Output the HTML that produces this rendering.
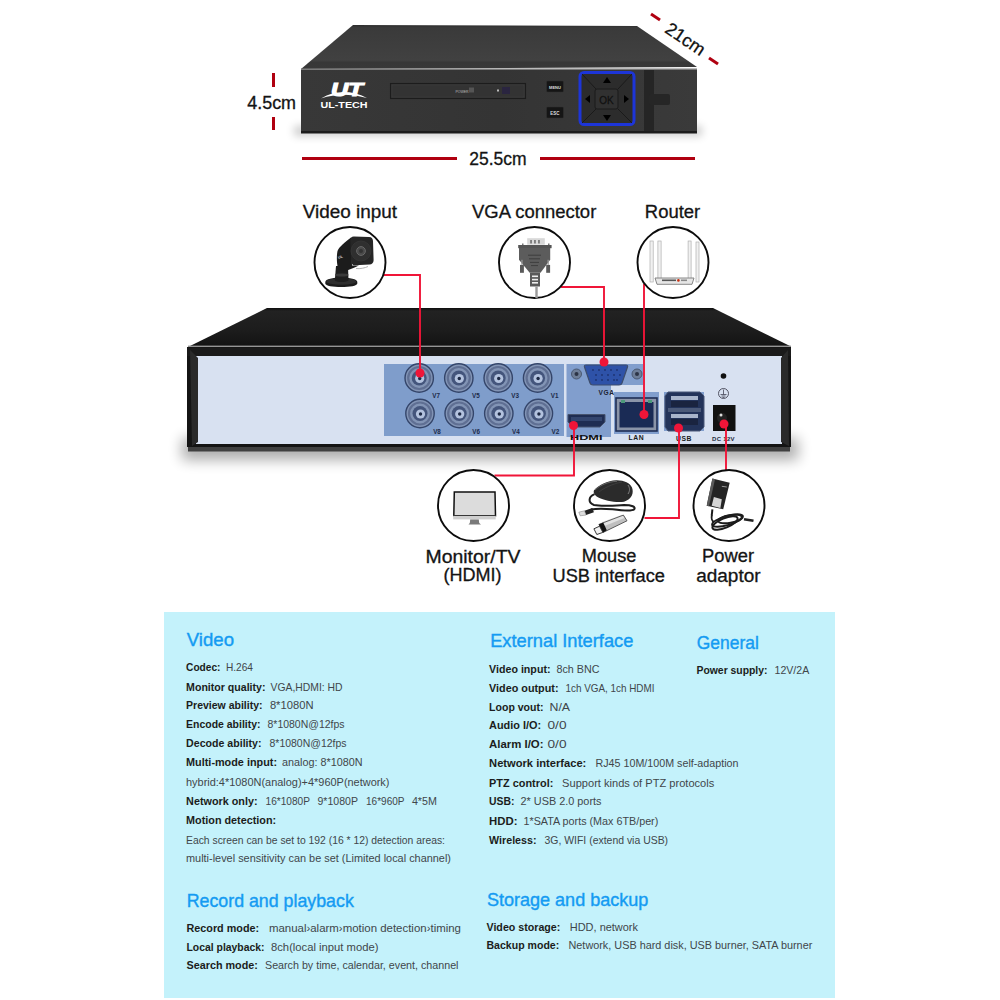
<!DOCTYPE html>
<html><head><meta charset="utf-8">
<style>
html,body{margin:0;padding:0;background:#fff;width:1000px;height:1000px;overflow:hidden}
body{position:relative;font-family:"Liberation Sans",sans-serif;color:#111}
svg.main{position:absolute;left:0;top:0;width:1000px;height:1000px}
</style></head><body>
<svg class="main" viewBox="0 0 1000 1000">
<defs>
  <linearGradient id="topface" x1="0" y1="0" x2="0" y2="1">
    <stop offset="0" stop-color="#2c2c2c"/><stop offset="0.06" stop-color="#3a3a3a"/><stop offset="0.8" stop-color="#414141"/><stop offset="0.85" stop-color="#373737"/><stop offset="1" stop-color="#383838"/>
  </linearGradient>
  <linearGradient id="front1" x1="0" y1="0" x2="1" y2="0">
    <stop offset="0" stop-color="#383838"/><stop offset="0.5" stop-color="#343434"/><stop offset="1" stop-color="#3a3a3a"/>
  </linearGradient>
  <linearGradient id="shadowv" x1="0" y1="0" x2="0" y2="1">
    <stop offset="0" stop-color="#000" stop-opacity="0.35"/><stop offset="1" stop-color="#000" stop-opacity="0"/>
  </linearGradient>
  <linearGradient id="top2" x1="0" y1="0" x2="0" y2="1">
    <stop offset="0" stop-color="#0e0e0e"/><stop offset="0.08" stop-color="#222"/><stop offset="0.6" stop-color="#1c1c1c"/><stop offset="0.95" stop-color="#141414"/><stop offset="1" stop-color="#101010"/>
  </linearGradient>
</defs>

<!-- ============ TOP DVR ============ -->
<filter id="blur4" x="-20%" y="-200%" width="140%" height="500%"><feGaussianBlur stdDeviation="4"/></filter>
<rect x="294" y="126" width="408" height="10" fill="#000" opacity="0.2" filter="url(#blur4)"/>
<polygon points="353,25 637,26 697,67 301,69" fill="url(#topface)"/>
<rect x="301" y="68.5" width="396" height="1.5" fill="#7a7a7a"/>
<rect x="301" y="70" width="396" height="63" fill="url(#front1)"/>
<rect x="301" y="131" width="396" height="2.5" fill="#1c1c1c"/>
<!-- logo -->
<g fill="#fff">
  <text x="331" y="96" font-size="18" font-weight="bold" font-style="italic" stroke="#fff" stroke-width="1.1" textLength="32" lengthAdjust="spacingAndGlyphs">UT</text>
  <path d="M321,98.5 Q343,86 367,98 Q343,91.5 321,98.5Z"/>
  <text x="320.5" y="108.3" font-size="8.4" font-weight="bold" textLength="47" lengthAdjust="spacingAndGlyphs">UL-TECH</text>
</g>
<!-- slot -->
<rect x="390.5" y="83.5" width="135" height="15" fill="#333" stroke="#1c1c1c" stroke-width="1.1"/>
<rect x="392" y="85" width="132" height="12" fill="none" stroke="#3e3e3e" stroke-width="0.6"/>
<text x="462" y="92.5" font-size="3.5" fill="#bbb" text-anchor="middle">POWER</text>
<rect x="469" y="87.5" width="5" height="5" fill="#555"/>
<rect x="497" y="89.5" width="2" height="2" fill="#bbb"/>
<rect x="502" y="87" width="8" height="7" fill="#2a2540"/>
<!-- buttons -->
<rect x="546.5" y="81" width="17" height="11" rx="1" fill="#151515" stroke="#333" stroke-width="0.5"/>
<text x="555" y="88.5" font-size="4" font-weight="bold" fill="#ddd" text-anchor="middle">MENU</text>
<rect x="546.5" y="107" width="17" height="11" rx="1" fill="#151515" stroke="#333" stroke-width="0.5"/>
<text x="555" y="114.5" font-size="4.5" font-weight="bold" fill="#ddd" text-anchor="middle">ESC</text>
<!-- nav pad -->
<rect x="580" y="72.5" width="54" height="52" rx="4" fill="#2c2c2c" stroke="#1d35d8" stroke-width="3"/>
<g stroke="#1a1a1a" stroke-width="1">
  <line x1="582" y1="74" x2="596" y2="89"/><line x1="632" y1="74" x2="618" y2="89"/>
  <line x1="582" y1="123" x2="596" y2="109"/><line x1="632" y1="123" x2="618" y2="109"/>
</g>
<rect x="595" y="89" width="23" height="20" rx="2" fill="#313131" stroke="#1a1a1a" stroke-width="1"/>
<text x="606.5" y="103.5" font-size="10" fill="#111" stroke="#111" stroke-width="0.3" text-anchor="middle">OK</text>
<g fill="#000">
  <polygon points="607,77 603,83 611,83"/><polygon points="607,121 603,115 611,115"/>
  <polygon points="585,99 590,95 590,103"/><polygon points="629,99 624,95 624,103"/>
</g>
<rect x="644" y="70" width="10" height="61" fill="#252525"/>
<rect x="649" y="94" width="21" height="11" rx="2" fill="#262626"/>

<!-- dimension marks -->
<g fill="#b00010">
  <rect x="272" y="73" width="3" height="14"/>
  <rect x="272" y="117" width="3" height="13"/>
  <rect x="302" y="157" width="155" height="3"/>
  <rect x="540" y="157" width="155" height="3"/>
  <line x1="651" y1="14" x2="660" y2="20" stroke="#b00010" stroke-width="3"/>
  <line x1="709" y1="58" x2="718" y2="64" stroke="#b00010" stroke-width="3"/>
</g>
<text x="682" y="44" font-size="18" fill="#111" stroke="#111" stroke-width="0.3" text-anchor="middle" transform="rotate(34 682 44)">21cm</text>


<!-- ============ BACK DVR ============ -->
<defs>
  <linearGradient id="shadow2" x1="0" y1="0" x2="0" y2="1">
    <stop offset="0" stop-color="#000" stop-opacity="0.45"/><stop offset="0.4" stop-color="#000" stop-opacity="0.12"/><stop offset="1" stop-color="#000" stop-opacity="0"/>
  </linearGradient>
  <radialGradient id="bncg" cx="0.5" cy="0.5" r="0.5">
    <stop offset="0" stop-color="#c9d3e2"/><stop offset="0.35" stop-color="#8d9fbd"/><stop offset="0.55" stop-color="#a7b5cd"/><stop offset="0.8" stop-color="#8394b5"/><stop offset="1" stop-color="#6b7fa6"/>
  </radialGradient>
</defs>
<filter id="blur6" x="-20%" y="-100%" width="140%" height="300%"><feGaussianBlur stdDeviation="7"/></filter>
<filter id="blur3" x="-20%" y="-100%" width="140%" height="300%"><feGaussianBlur stdDeviation="3"/></filter>
<rect x="182" y="438" width="616" height="22" fill="#000" opacity="0.32" filter="url(#blur6)"/>
<polygon points="267,308 713,308 790,346 190,346" fill="url(#top2)"/>
<rect x="188" y="345.6" width="603" height="1.8" fill="#959595"/>
<rect x="188" y="446" width="602" height="5.5" fill="#404040"/>
<rect x="187" y="347" width="604" height="100" fill="#141414"/>
<rect x="187" y="347.4" width="604" height="8.6" fill="#1a1a1a"/>
<polygon points="196,356 782,356 782,444 196,444" fill="#d8e1f1"/>
<polygon points="190,350 198,358 198,442 192,446" fill="#2a2a2a"/>
<polygon points="788,350 781,358 781,442 789,446" fill="#2a2a2a"/>
<!-- BNC panel -->
<rect x="384" y="364" width="180" height="72" fill="#7f9dcb"/>
<g id="bncs"><circle cx="419.2" cy="378" r="14.2" fill="#8294b5" stroke="#34456a" stroke-width="1.4"/>
<circle cx="419.2" cy="378" r="11" fill="none" stroke="#5f6f93" stroke-width="2.2"/>
<circle cx="419.2" cy="378" r="7.5" fill="#44557c"/>
<circle cx="419.7" cy="378.5" r="4.6" fill="#b3c2de"/>
<circle cx="419.7" cy="378.5" r="1.7" fill="#1c2844"/>
<text x="436.2" y="396.5" font-size="6.3" font-weight="bold" fill="#1c2a4a" text-anchor="middle" dy="1.5">V7</text>
<circle cx="458.8" cy="378" r="14.2" fill="#8294b5" stroke="#34456a" stroke-width="1.4"/>
<circle cx="458.8" cy="378" r="11" fill="none" stroke="#5f6f93" stroke-width="2.2"/>
<circle cx="458.8" cy="378" r="7.5" fill="#44557c"/>
<circle cx="459.3" cy="378.5" r="4.6" fill="#b3c2de"/>
<circle cx="459.3" cy="378.5" r="1.7" fill="#1c2844"/>
<text x="475.8" y="396.5" font-size="6.3" font-weight="bold" fill="#1c2a4a" text-anchor="middle" dy="1.5">V5</text>
<circle cx="498.2" cy="378" r="14.2" fill="#8294b5" stroke="#34456a" stroke-width="1.4"/>
<circle cx="498.2" cy="378" r="11" fill="none" stroke="#5f6f93" stroke-width="2.2"/>
<circle cx="498.2" cy="378" r="7.5" fill="#44557c"/>
<circle cx="498.7" cy="378.5" r="4.6" fill="#b3c2de"/>
<circle cx="498.7" cy="378.5" r="1.7" fill="#1c2844"/>
<text x="515.2" y="396.5" font-size="6.3" font-weight="bold" fill="#1c2a4a" text-anchor="middle" dy="1.5">V3</text>
<circle cx="537.6" cy="378" r="14.2" fill="#8294b5" stroke="#34456a" stroke-width="1.4"/>
<circle cx="537.6" cy="378" r="11" fill="none" stroke="#5f6f93" stroke-width="2.2"/>
<circle cx="537.6" cy="378" r="7.5" fill="#44557c"/>
<circle cx="538.1" cy="378.5" r="4.6" fill="#b3c2de"/>
<circle cx="538.1" cy="378.5" r="1.7" fill="#1c2844"/>
<text x="554.6" y="396.5" font-size="6.3" font-weight="bold" fill="#1c2a4a" text-anchor="middle" dy="1.5">V1</text>
<circle cx="420" cy="413.5" r="14.2" fill="#8294b5" stroke="#34456a" stroke-width="1.4"/>
<circle cx="420" cy="413.5" r="11" fill="none" stroke="#5f6f93" stroke-width="2.2"/>
<circle cx="420" cy="413.5" r="7.5" fill="#44557c"/>
<circle cx="420.5" cy="414.0" r="4.6" fill="#b3c2de"/>
<circle cx="420.5" cy="414.0" r="1.7" fill="#1c2844"/>
<text x="437" y="432.0" font-size="6.3" font-weight="bold" fill="#1c2a4a" text-anchor="middle" dy="1.5">V8</text>
<circle cx="459.2" cy="413.5" r="14.2" fill="#8294b5" stroke="#34456a" stroke-width="1.4"/>
<circle cx="459.2" cy="413.5" r="11" fill="none" stroke="#5f6f93" stroke-width="2.2"/>
<circle cx="459.2" cy="413.5" r="7.5" fill="#44557c"/>
<circle cx="459.7" cy="414.0" r="4.6" fill="#b3c2de"/>
<circle cx="459.7" cy="414.0" r="1.7" fill="#1c2844"/>
<text x="476.2" y="432.0" font-size="6.3" font-weight="bold" fill="#1c2a4a" text-anchor="middle" dy="1.5">V6</text>
<circle cx="498.8" cy="413.5" r="14.2" fill="#8294b5" stroke="#34456a" stroke-width="1.4"/>
<circle cx="498.8" cy="413.5" r="11" fill="none" stroke="#5f6f93" stroke-width="2.2"/>
<circle cx="498.8" cy="413.5" r="7.5" fill="#44557c"/>
<circle cx="499.3" cy="414.0" r="4.6" fill="#b3c2de"/>
<circle cx="499.3" cy="414.0" r="1.7" fill="#1c2844"/>
<text x="515.8" y="432.0" font-size="6.3" font-weight="bold" fill="#1c2a4a" text-anchor="middle" dy="1.5">V4</text>
<circle cx="538.4" cy="413.5" r="14.2" fill="#8294b5" stroke="#34456a" stroke-width="1.4"/>
<circle cx="538.4" cy="413.5" r="11" fill="none" stroke="#5f6f93" stroke-width="2.2"/>
<circle cx="538.4" cy="413.5" r="7.5" fill="#44557c"/>
<circle cx="538.9" cy="414.0" r="4.6" fill="#b3c2de"/>
<circle cx="538.9" cy="414.0" r="1.7" fill="#1c2844"/>
<text x="555.4" y="432.0" font-size="6.3" font-weight="bold" fill="#1c2a4a" text-anchor="middle" dy="1.5">V2</text></g>
<!-- VGA/HDMI panel -->
<polygon points="566.5,364 643,364 643,385 611,385 611,437 566.5,437" fill="#819ecd"/>
<rect x="614" y="392" width="45" height="42" fill="#819ecd"/>
<rect x="664" y="392" width="40" height="39" fill="#819ecd"/>
<!-- VGA -->
<circle cx="576.5" cy="374" r="5" fill="#6e7e98" stroke="#4b5a74" stroke-width="1"/>
<circle cx="576.5" cy="374" r="2" fill="#2c3446"/>
<circle cx="637" cy="374" r="5" fill="#6e7e98" stroke="#4b5a74" stroke-width="1"/>
<circle cx="637" cy="374" r="2" fill="#2c3446"/>
<path d="M586,365 L626,365 Q628,365 627.5,367 L622,383 Q621.5,385 619,385 L593,385 Q590.5,385 590,383 L584.5,367 Q584,365 586,365Z" fill="#2e52a8" stroke="#3d4d6c" stroke-width="1.2"/>
<g fill="#1d3270">
  <circle cx="593" cy="370" r="0.9"/><circle cx="599" cy="370" r="0.9"/><circle cx="605" cy="370" r="0.9"/><circle cx="611" cy="370" r="0.9"/><circle cx="617" cy="370" r="0.9"/>
  <circle cx="596" cy="375" r="0.9"/><circle cx="602" cy="375" r="0.9"/><circle cx="608" cy="375" r="0.9"/><circle cx="614" cy="375" r="0.9"/><circle cx="620" cy="375" r="0.9"/>
  <circle cx="596" cy="380" r="0.9"/><circle cx="602" cy="380" r="0.9"/><circle cx="608" cy="380" r="0.9"/><circle cx="614" cy="380" r="0.9"/><circle cx="617" cy="380" r="0.9"/>
</g>
<text x="606.5" y="395" font-size="6.6" font-weight="bold" fill="#1a2233" text-anchor="middle" letter-spacing="0.6">VGA</text>
<!-- HDMI -->
<path d="M568,414.5 L605,414.5 L605,422 L600,427 L573,427 L568,422Z" fill="#1f2d52" stroke="#46536e" stroke-width="1"/>
<rect x="571" y="417" width="31" height="4" fill="#33456e"/>
<text x="570" y="439.5" font-size="8" font-weight="bold" fill="#111" textLength="32.5" lengthAdjust="spacingAndGlyphs">HDMI</text>
<!-- LAN -->
<rect x="616" y="398" width="41" height="33" fill="#8a94a8" stroke="#1e2d55" stroke-width="1.6"/>
<rect x="619.5" y="402" width="34" height="25.5" fill="#1a2b55"/>
<rect x="621" y="400" width="4" height="3" fill="#4c9a7a"/><rect x="648" y="400" width="4" height="3" fill="#4c9a7a"/>
<text x="636.5" y="440" font-size="6.8" font-weight="bold" fill="#1a1a1a" text-anchor="middle" letter-spacing="0.6">LAN</text>
<!-- USB -->
<path d="M668,392 L700,392 L704,396 L704,427 L700,431 L668,431 L665,427 L665,396Z" fill="#23335a" stroke="#4a5878" stroke-width="1"/>
<rect x="671" y="396" width="27" height="4" fill="#a9b5cc"/>
<rect x="671" y="401" width="27" height="6" fill="#1a2440"/>
<rect x="668" y="408" width="33" height="4" fill="#4b5a7a"/>
<rect x="671" y="414" width="27" height="4" fill="#a9b5cc"/>
<rect x="671" y="419" width="27" height="6" fill="#1a2440"/>
<text x="684" y="440.5" font-size="6.8" font-weight="bold" fill="#1a1a1a" text-anchor="middle" letter-spacing="0.6">USB</text>
<!-- power side -->
<circle cx="723.5" cy="376" r="2.8" fill="#111"/>
<circle cx="723.5" cy="393.5" r="5" fill="none" stroke="#445" stroke-width="0.9"/>
<path d="M723.5,389.5 V394.5 M720.5,394.5 H726.5 M721.5,396 H725.5 M722.5,397.5 H724.5" stroke="#445" stroke-width="0.8" fill="none"/>
<rect x="713" y="405" width="22.5" height="26" fill="#111"/>
<circle cx="722" cy="418" r="5" fill="#222"/>
<circle cx="721" cy="415" r="1.5" fill="#ddd"/>
<text x="723.5" y="441" font-size="6" font-weight="bold" fill="#1e2a3c" text-anchor="middle" letter-spacing="0.3">DC 12V</text>
<!-- ============ CIRCLES & LINES ============ -->
<g fill="none" stroke="#f01538" stroke-width="1.9">
  <polyline points="384,275 420,275 420,373"/>
  <polyline points="561,287 604,287 604,362"/>
  <polyline points="644,284 644,414.5"/>
  <polyline points="574,425.5 574,475.5 494.5,475.5"/>
  <polyline points="679,428 679,518 644.5,518"/>
  <polyline points="726,424 726,470"/>
</g>
<g fill="#f01538">
  <circle cx="420" cy="373" r="4.5"/>
  <circle cx="604" cy="362" r="4.5"/>
  <circle cx="644" cy="414.5" r="4.5"/>
  <circle cx="573.5" cy="425.5" r="4.5"/>
  <circle cx="678.5" cy="428" r="4.5"/>
  <circle cx="724" cy="424" r="4.5"/>
</g>
<g fill="#fff" stroke="#0c0c0c" stroke-width="1.9">
  <circle cx="350" cy="262.5" r="35.5"/>
  <circle cx="534.5" cy="262.5" r="35.5"/>
  <circle cx="673" cy="262.5" r="35.5"/>
  <circle cx="473.5" cy="505.5" r="35.5"/>
  <circle cx="609.5" cy="505.5" r="35.5"/>
  <circle cx="729" cy="505.5" r="35.5"/>
</g>
<g id="icons">
<!-- camera -->
<g>
 <path d="M325.3,282 C325.3,279 333,277.5 341.3,277.5 C349.5,277.5 357.3,279 357.3,282 L357.3,283.5 C357.3,286 349.5,287 341.3,287 C333,287 325.3,286 325.3,283.5Z" fill="#1b1b1b"/>
 <ellipse cx="341.3" cy="281.5" rx="15" ry="3.3" fill="#2e2e2e"/>
 <path d="M336,266 L348,266 L348.5,280.5 C345,282.5 338,282.5 334.8,280.5Z" fill="#1e1e1e"/>
 <ellipse cx="341.8" cy="275" rx="6.8" ry="1.6" fill="#3a3a3a"/>
 <path d="M351,237.5 C345,242 339,247 337.5,251 C336.5,256 336.8,262 337.5,266 C338.5,270 341,272 345,271 C350,269.5 356,267 359,265.5 L352,265.5 Z" fill="#1c1c1c"/>
 <path d="M354,236.6 L369,237.1 C372,237.2 372.8,239 373,241 L373.6,260 C373.7,263 372,264.3 369.5,264.5 L355,265.3 C352.3,265.4 351.2,263.5 351.1,261 L350.3,240.5 C350.2,238 351.5,236.5 354,236.6Z" fill="#262626"/>
 <circle cx="361" cy="251" r="10" fill="#2f2f2f" stroke="#3a3a3a" stroke-width="0.6"/>
 <circle cx="361" cy="251" r="4.4" fill="#4a4a4a" stroke="#686868" stroke-width="1"/>
 <circle cx="361" cy="251" r="2" fill="#333"/>
 <path d="M356,268.5 C360,269 365,268 368,266.5" stroke="#aaa" stroke-width="0.9" fill="none"/>
 <text x="338.5" y="259" font-size="3.6" font-weight="bold" fill="#ddd" transform="rotate(-20 338.5 259)">UL</text>
</g>
<!-- VGA connector -->
<g>
 <rect x="527.2" y="238.2" width="17.6" height="6.5" fill="#d8d8d8"/>
 <rect x="530.3" y="240" width="1.5" height="3.5" fill="#666"/><rect x="534.2" y="240" width="1.5" height="3.5" fill="#666"/><rect x="538.2" y="240" width="1.5" height="3.5" fill="#666"/>
 <rect x="522" y="243.5" width="1.5" height="2" fill="#777"/><rect x="548" y="243.5" width="1.5" height="2" fill="#777"/>
 <rect x="518.2" y="245" width="33.4" height="3.2" fill="#555"/>
 <path d="M519,248 L550.2,248 L550.2,259.8 L540.5,272.8 L529.7,272.8 L519,259.8 Z" fill="#5c5c5c"/>
 <g stroke="#3e3e3e" stroke-width="1"><line x1="528" y1="255.2" x2="541" y2="255.2"/><line x1="529" y1="258.8" x2="540" y2="258.8"/><line x1="530" y1="262.4" x2="539" y2="262.4"/><line x1="531" y1="265.6" x2="538" y2="265.6"/></g>
 <rect x="520" y="264.9" width="3.9" height="7.9" fill="#5a5a5a"/><rect x="546.2" y="264.9" width="3.9" height="7.9" fill="#5a5a5a"/>
 <rect x="521.3" y="259.8" width="1.3" height="5" fill="#999"/><rect x="547.5" y="259.8" width="1.3" height="5" fill="#999"/>
 <rect x="530" y="272.8" width="10" height="13.7" fill="#5a5a5a"/>
 <g fill="#eee"><rect x="532" y="275.5" width="6" height="1.6"/><rect x="532" y="278.8" width="6" height="1.6"/><rect x="532" y="282" width="6" height="1.6"/></g>
 <rect x="535.3" y="286.5" width="2.4" height="11.5" fill="#9a9a9a"/>
</g>
<!-- router -->
<g>
 <g fill="#f1f1f1" stroke="#b0b0b0" stroke-width="0.7">
  <rect x="650" y="241" width="3.2" height="41"/><rect x="657.9" y="241" width="3.2" height="39"/>
  <rect x="688.1" y="241" width="3" height="39"/><rect x="696" y="242" width="3" height="40"/>
 </g>
 <path d="M655,278 L694,278 L692,284.3 L657,284.3 Z" fill="#e6e6e6" stroke="#7a7a7a" stroke-width="0.9"/>
 <rect x="662" y="279.5" width="14" height="1.6" fill="#555"/>
 <circle cx="678.4" cy="280.4" r="1.3" fill="#c83010"/>
 <rect x="681" y="279.5" width="6" height="1.6" fill="#888"/>
</g>
<!-- monitor -->
<g>
 <path d="M454.3,492 L495,492 L495.5,515.8 L453.8,515.8 Z" fill="#dcdcdc" stroke="#111" stroke-width="1.5"/>
 <rect x="453.2" y="515.8" width="42.5" height="3.6" fill="#cfcfcf"/>
 <polygon points="470.2,519.6 478.8,519.6 479.2,523 481,524.6 468.5,524.6 469.8,523" fill="#7a7a7a"/>
</g>
<!-- mouse + usb -->
<g>
 <path d="M594.6,494.2 C588,497 588,503 594,505 C602,506.5 615,505.5 624,505 C632,505 636,507 634.2,509.3 C632,511.5 622,510.5 612.6,509.3 C604,508.5 596,508.5 591,509.5" fill="none" stroke="#1e1e1e" stroke-width="2"/>
 <path d="M593.9,490.6 C598,485 608,480.5 616.2,480.2 C624,480 630,483 632,487.5 C634,493 632,499 624,501.8 C616,503 604,500.5 598.9,497.8 C595,496 593,493 593.9,490.6Z" fill="#2b2b2b"/>
 <path d="M595,490 C600,485 609,481.5 617,481.3" stroke="#6a6a6a" stroke-width="0.9" fill="none"/>
 <path d="M599,492 C604,488 612,484 622,482" stroke="#444" stroke-width="0.7" fill="none"/>
 <path d="M628,494 C630,491 630,488 628,485" stroke="#8a8a8a" stroke-width="0.9" fill="none"/>
 <polygon points="584.5,510.8 592.4,507.9 593.9,512.2 586,515.1" fill="#222"/>
 <polygon points="578.8,512.2 584.5,510.8 586,515.1 580.2,515.8" fill="#dedede" stroke="#777" stroke-width="0.5"/>
 <polygon points="598.9,524.4 623.4,515.1 627,520.8 603.2,532.4" fill="#bfbfbf"/>
 <polygon points="602,522 622,514.8 624.5,518 604.5,526" fill="#e2e2e2"/>
 <polygon points="598.9,524.4 623.4,515.1 627,520.8 603.2,532.4" fill="none" stroke="#3a3a3a" stroke-width="0.8"/>
 <polygon points="598.9,524.4 603.2,522.6 606.8,530.2 603.2,532.4" fill="#111"/>
 <polygon points="593.9,528.8 599.6,526.2 602.9,532.4 596.8,534.5" fill="#f2f2f2" stroke="#222" stroke-width="0.9"/>
</g>
<!-- power adaptor -->
<g>
 <polygon points="712.4,478.4 729.7,482.7 723.2,509.3 706.7,505.7" fill="#242424"/>
 <polygon points="712.4,478.4 715,479.2 709,506.2 706.7,505.7" fill="#5a5a5a"/>
 <polygon points="713.9,497.1 721.8,499.2 720.4,507.9 711.7,505.7" fill="#d4d4d4"/>
 <line x1="721.8" y1="486.3" x2="726.8" y2="487" stroke="#999" stroke-width="1"/>
 <line x1="712.4" y1="509.3" x2="711.7" y2="515.5" stroke="#1a1a1a" stroke-width="2"/>
 <g fill="none" stroke="#1c1c1c" stroke-width="1.9">
  <ellipse cx="727.5" cy="520.5" rx="16" ry="4.6" transform="rotate(-16 727.5 520.5)"/>
  <ellipse cx="725" cy="523" rx="13.5" ry="4.8" transform="rotate(-22 725 523)"/>
  <ellipse cx="730" cy="519" rx="12" ry="3.8" transform="rotate(-10 730 519)"/>
  <path d="M712,515 C711,518 712,521 714,522"/>
 </g>
 <line x1="744" y1="519.2" x2="753.5" y2="520.8" stroke="#222" stroke-width="2.6"/>
</g>
</g>
</g>

<g id="labels" fill="#141414" stroke="#141414" stroke-width="0.3">
<text x="302.8" y="218.2" font-size="18" textLength="94.20" lengthAdjust="spacingAndGlyphs">Video input</text>
<text x="472.0" y="218.2" font-size="18" textLength="124.30" lengthAdjust="spacingAndGlyphs">VGA connector</text>
<text x="644.8000000000001" y="218.2" font-size="18" textLength="55.4" lengthAdjust="spacingAndGlyphs">Router</text>
<text x="425.5" y="562.5" font-size="18" textLength="95.00" lengthAdjust="spacingAndGlyphs">Monitor/TV</text>
<text x="443.5" y="580.5" font-size="18" textLength="58.10" lengthAdjust="spacingAndGlyphs">(HDMI)</text>
<text x="581.8000000000001" y="562" font-size="18" textLength="54.60" lengthAdjust="spacingAndGlyphs">Mouse</text>
<text x="552.5" y="581.8" font-size="18" textLength="112.50" lengthAdjust="spacingAndGlyphs">USB interface</text>
<text x="702.1" y="562" font-size="18" textLength="52.00" lengthAdjust="spacingAndGlyphs">Power</text>
<text x="696.2" y="581.8" font-size="18" textLength="64.4" lengthAdjust="spacingAndGlyphs">adaptor</text>
<text x="247.2" y="108.5" font-size="18" textLength="48.9" lengthAdjust="spacingAndGlyphs">4.5cm</text>
<text x="469.2" y="165" font-size="18" textLength="57.4" lengthAdjust="spacingAndGlyphs">25.5cm</text>
</g>
<!-- ============ SPEC BOX ============ -->
<rect x="164" y="612" width="671" height="386" fill="#c4f2fb"/>
<g id="spectext">
<g font-family="Liberation Sans, sans-serif">
<text x="186.79999999999998" y="646" font-size="18.5" fill="#149bf2" stroke="#149bf2" stroke-width="0.4" textLength="47.2" lengthAdjust="spacingAndGlyphs">Video</text>
<text x="490.2" y="647" font-size="18.5" fill="#149bf2" stroke="#149bf2" stroke-width="0.4" textLength="143.2" lengthAdjust="spacingAndGlyphs">External Interface</text>
<text x="696.8000000000001" y="648.5" font-size="18.5" fill="#149bf2" stroke="#149bf2" stroke-width="0.4" textLength="62.00" lengthAdjust="spacingAndGlyphs">General</text>
<text x="186.7" y="907" font-size="18.5" fill="#149bf2" stroke="#149bf2" stroke-width="0.4" textLength="167.10" lengthAdjust="spacingAndGlyphs">Record and playback</text>
<text x="486.9" y="906" font-size="18.5" fill="#149bf2" stroke="#149bf2" stroke-width="0.4" textLength="161.5" lengthAdjust="spacingAndGlyphs">Storage and backup</text>
<text x="186.1" y="671.4" font-size="11.8" font-weight="bold" fill="#1b1d20" textLength="34.40" lengthAdjust="spacingAndGlyphs">Codec:</text>
<text x="225.9" y="671.4" font-size="11.8" fill="#41464a" textLength="27.0" lengthAdjust="spacingAndGlyphs">H.264</text>
<text x="186.1" y="690.6" font-size="11.8" font-weight="bold" fill="#1b1d20" textLength="79.4" lengthAdjust="spacingAndGlyphs">Monitor quality:</text>
<text x="270.5" y="690.6" font-size="11.8" fill="#41464a" textLength="72" lengthAdjust="spacingAndGlyphs">VGA,HDMI: HD</text>
<text x="186.1" y="709" font-size="11.8" font-weight="bold" fill="#1b1d20" textLength="76.4" lengthAdjust="spacingAndGlyphs">Preview ability:</text>
<text x="269.9" y="709" font-size="11.8" fill="#41464a" textLength="43.60" lengthAdjust="spacingAndGlyphs">8*1080N</text>
<text x="186.1" y="728" font-size="11.8" font-weight="bold" fill="#1b1d20" textLength="74.4" lengthAdjust="spacingAndGlyphs">Encode ability:</text>
<text x="267.5" y="728" font-size="11.8" fill="#41464a" textLength="77" lengthAdjust="spacingAndGlyphs">8*1080N@12fps</text>
<text x="186.1" y="746.6" font-size="11.8" font-weight="bold" fill="#1b1d20" textLength="75.4" lengthAdjust="spacingAndGlyphs">Decode ability:</text>
<text x="269.5" y="746.6" font-size="11.8" fill="#41464a" textLength="77" lengthAdjust="spacingAndGlyphs">8*1080N@12fps</text>
<text x="186.1" y="766.4" font-size="11.8" font-weight="bold" fill="#1b1d20" textLength="90.9" lengthAdjust="spacingAndGlyphs">Multi-mode input:</text>
<text x="282.0" y="766.4" font-size="11.8" fill="#41464a" textLength="80.5" lengthAdjust="spacingAndGlyphs">analog: 8*1080N</text>
<text x="186.0" y="785.6" font-size="11.8" fill="#41464a" textLength="203.5" lengthAdjust="spacingAndGlyphs">hybrid:4*1080N(analog)+4*960P(network)</text>
<text x="186.1" y="804.5" font-size="11.8" font-weight="bold" fill="#1b1d20" textLength="71.4" lengthAdjust="spacingAndGlyphs">Network only:</text>
<text x="265.5" y="804.5" font-size="11.8" fill="#41464a" textLength="44.5" lengthAdjust="spacingAndGlyphs">16*1080P</text>
<text x="317.5" y="804.5" font-size="11.8" fill="#41464a" textLength="40.5" lengthAdjust="spacingAndGlyphs">9*1080P</text>
<text x="366.0" y="804.5" font-size="11.8" fill="#41464a" textLength="38.5" lengthAdjust="spacingAndGlyphs">16*960P</text>
<text x="411.9" y="804.5" font-size="11.8" fill="#41464a" textLength="25.0" lengthAdjust="spacingAndGlyphs">4*5M</text>
<text x="186.1" y="824" font-size="11.8" font-weight="bold" fill="#1b1d20" textLength="90.00" lengthAdjust="spacingAndGlyphs">Motion detection:</text>
<text x="186.0" y="843.5" font-size="11.8" fill="#41464a" textLength="259.0" lengthAdjust="spacingAndGlyphs">Each screen can be set to 192 (16 * 12) detection areas:</text>
<text x="186.0" y="862.4" font-size="11.8" fill="#41464a" textLength="265.0" lengthAdjust="spacingAndGlyphs">multi-level sensitivity can be set (Limited local channel)</text>
<text x="489.1" y="673" font-size="11.8" font-weight="bold" fill="#1b1d20" textLength="61.40" lengthAdjust="spacingAndGlyphs">Video input:</text>
<text x="556.5" y="673" font-size="11.8" fill="#41464a" textLength="43" lengthAdjust="spacingAndGlyphs">8ch BNC</text>
<text x="489.1" y="691.6" font-size="11.8" font-weight="bold" fill="#1b1d20" textLength="69.40" lengthAdjust="spacingAndGlyphs">Video output:</text>
<text x="565.5" y="691.6" font-size="11.8" fill="#41464a" textLength="89" lengthAdjust="spacingAndGlyphs">1ch VGA, 1ch HDMI</text>
<text x="489.1" y="710.6" font-size="11.8" font-weight="bold" fill="#1b1d20" textLength="54.40" lengthAdjust="spacingAndGlyphs">Loop vout:</text>
<text x="549.5" y="710.6" font-size="11.8" fill="#41464a" textLength="20.60" lengthAdjust="spacingAndGlyphs">N/A</text>
<text x="489.1" y="729.4" font-size="11.8" font-weight="bold" fill="#1b1d20" textLength="52.0" lengthAdjust="spacingAndGlyphs">Audio I/O:</text>
<text x="547.5" y="729.4" font-size="11.8" fill="#41464a" textLength="19" lengthAdjust="spacingAndGlyphs">0/0</text>
<text x="489.1" y="748.4" font-size="11.8" font-weight="bold" fill="#1b1d20" textLength="54.40" lengthAdjust="spacingAndGlyphs">Alarm I/O:</text>
<text x="547.5" y="748.4" font-size="11.8" fill="#41464a" textLength="19" lengthAdjust="spacingAndGlyphs">0/0</text>
<text x="489.1" y="767.4" font-size="11.8" font-weight="bold" fill="#1b1d20" textLength="97.20" lengthAdjust="spacingAndGlyphs">Network interface:</text>
<text x="595.5" y="767.4" font-size="11.8" fill="#41464a" textLength="143" lengthAdjust="spacingAndGlyphs">RJ45 10M/100M self-adaption</text>
<text x="489.1" y="787.2" font-size="11.8" font-weight="bold" fill="#1b1d20" textLength="64.20" lengthAdjust="spacingAndGlyphs">PTZ control:</text>
<text x="562.1" y="787.2" font-size="11.8" fill="#41464a" textLength="152.20" lengthAdjust="spacingAndGlyphs">Support kinds of PTZ protocols</text>
<text x="489.1" y="805.4" font-size="11.8" font-weight="bold" fill="#1b1d20" textLength="25.40" lengthAdjust="spacingAndGlyphs">USB:</text>
<text x="520.5" y="805.4" font-size="11.8" fill="#41464a" textLength="81" lengthAdjust="spacingAndGlyphs">2* USB 2.0 ports</text>
<text x="489.1" y="825" font-size="11.8" font-weight="bold" fill="#1b1d20" textLength="28.40" lengthAdjust="spacingAndGlyphs">HDD:</text>
<text x="523.5" y="825" font-size="11.8" fill="#41464a" textLength="134.80" lengthAdjust="spacingAndGlyphs">1*SATA ports (Max 6TB/per)</text>
<text x="489.1" y="843.8" font-size="11.8" font-weight="bold" fill="#1b1d20" textLength="47.40" lengthAdjust="spacingAndGlyphs">Wireless:</text>
<text x="544.5" y="843.8" font-size="11.8" fill="#41464a" textLength="123.60" lengthAdjust="spacingAndGlyphs">3G, WIFI (extend via USB)</text>
<text x="696.5" y="673.6" font-size="11.8" font-weight="bold" fill="#1b1d20" textLength="71" lengthAdjust="spacingAndGlyphs">Power supply:</text>
<text x="774.5" y="673.6" font-size="11.8" fill="#41464a" textLength="34.80" lengthAdjust="spacingAndGlyphs">12V/2A</text>
<text x="186.5" y="931.6" font-size="11.8" font-weight="bold" fill="#1b1d20" textLength="72.60" lengthAdjust="spacingAndGlyphs">Record mode:</text>
<text x="268.9" y="931.6" font-size="11.8" fill="#41464a" textLength="192.10" lengthAdjust="spacingAndGlyphs">manual›alarm›motion detection›timing</text>
<text x="186.5" y="950.5" font-size="11.8" font-weight="bold" fill="#1b1d20" textLength="78" lengthAdjust="spacingAndGlyphs">Local playback:</text>
<text x="271.0" y="950.5" font-size="11.8" fill="#41464a" textLength="107.5" lengthAdjust="spacingAndGlyphs">8ch(local input mode)</text>
<text x="186.5" y="968.5" font-size="11.8" font-weight="bold" fill="#1b1d20" textLength="71.40" lengthAdjust="spacingAndGlyphs">Search mode:</text>
<text x="265.0" y="968.5" font-size="11.8" fill="#41464a" textLength="193.5" lengthAdjust="spacingAndGlyphs">Search by time, calendar, event, channel</text>
<text x="486.5" y="930.75" font-size="11.8" font-weight="bold" fill="#1b1d20" textLength="73.80" lengthAdjust="spacingAndGlyphs">Video storage:</text>
<text x="569.8" y="930.75" font-size="11.8" fill="#41464a" textLength="68.20" lengthAdjust="spacingAndGlyphs">HDD, network</text>
<text x="486.5" y="949" font-size="11.8" font-weight="bold" fill="#1b1d20" textLength="72.75" lengthAdjust="spacingAndGlyphs">Backup mode:</text>
<text x="568.5" y="949" font-size="11.8" fill="#41464a" textLength="243.80" lengthAdjust="spacingAndGlyphs">Network, USB hard disk, USB burner, SATA burner</text>
</g>
</g>
</svg>
</body></html>
